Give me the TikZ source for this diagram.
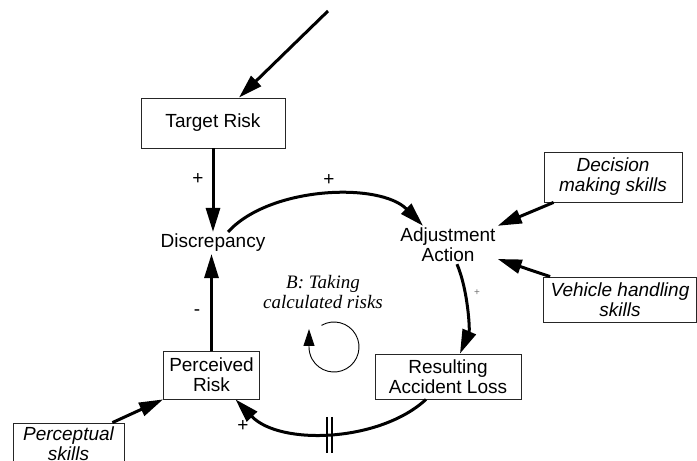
\documentclass[tikz,border=0pt]{standalone}
\usepackage{fontspec}
\setmainfont{Liberation Sans}
\newfontfamily\loopfont{Liberation Serif}
\usetikzlibrary{arrows.meta}
\begin{document}
\begin{tikzpicture}[x=1pt,y=1pt,
  every node/.style={font=\fontsize{19}{20}\selectfont},
  box/.style={draw=black!85, line width=0.8pt, align=center, inner sep=2pt},
  itbox/.style={box, font=\fontsize{19}{20}\selectfont\itshape},
  plain/.style={align=center, inner sep=2pt},
  flow/.style={line width=3pt, -{Triangle[length=24pt,width=14pt]}},
  sign/.style={inner sep=0pt},
  bar/.style={line width=2.2pt}]
\useasboundingbox (0,0) rectangle (697,461);
\clip (0,0) rectangle (697,461);

\node[box, minimum width=144pt, minimum height=50pt] (tr) at (213,338) {Target Risk};
\node[plain] (disc) at (213,218) {Discrepancy};
\node[plain] (adj) at (448,216) {Adjustment\\Action};
\node[itbox, minimum width=138pt, minimum height=50pt] (dec) at (613,284) {Decision\\making skills};
\node[itbox, minimum width=153pt, minimum height=45pt] (veh) at (620,161.5) {Vehicle handling\\skills};
\node[box, minimum width=146pt, minimum height=45pt] (res) at (448,84.5) {Resulting\\Accident Loss};
\node[box, minimum width=96pt, minimum height=48pt] (per) at (211.5,86) {Perceived\\Risk};
\node[itbox, minimum width=111pt, minimum height=42pt] (perc) at (68.5,17) {Perceptual\\skills};
\node[plain, font=\fontsize{19}{20}\loopfont\itshape] (loop) at (323,169) {B: Taking\\calculated risks};

\coordinate (src) at (328,450);
\coordinate (cc) at (334,114);

\draw[flow] (src) -- ([xshift=26pt]tr.north);
\draw[flow] (tr.south) -- (disc.north);
\draw[flow] ([xshift=15pt]disc.north) .. controls (270,275) and (380,279) .. ([xshift=-25pt]adj.north);
\draw[flow] ([xshift=10pt]dec.south west) -- (adj.north east);
\draw[flow] ([xshift=7pt]veh.north west) -- ([yshift=-14pt]adj.east);
\draw[flow] ([xshift=9pt]adj.south) .. controls (468,171) and (470,131) .. ([xshift=12pt]res.north);
\draw[flow] ([xshift=-22pt]res.south) .. controls (380,19) and (280,15) .. ([xshift=24pt]per.south) coordinate[pos=0.5] (mid);
\draw[bar] ([xshift=-3pt,yshift=16pt]mid) -- ([xshift=-3pt,yshift=-20pt]mid);
\draw[bar] ([xshift=2pt,yshift=16pt]mid) -- ([xshift=2pt,yshift=-20pt]mid);
\draw[flow] (per.north) -- (per.north |- disc.south);
\draw[flow] ([xshift=-12pt]perc.north east) -- (per.south west);

\draw[line width=0.9pt, -{Triangle[length=17pt,width=11pt]}] ([shift={(120:25pt)}]cc) arc[start angle=120, end angle=-180, radius=25pt] -- ++(0,18pt);

\node[sign] (s1) at (198,282) {+};
\node[sign] (s2) at (329,281) {+};
\node[sign] (s3) at (197,148) {-};
\node[sign] (s4) at (243,35) {+};
\node[sign, text=black!55, font=\fontsize{10}{12}\selectfont] (s5) at (477,168) {+};
\end{tikzpicture}
\end{document}
